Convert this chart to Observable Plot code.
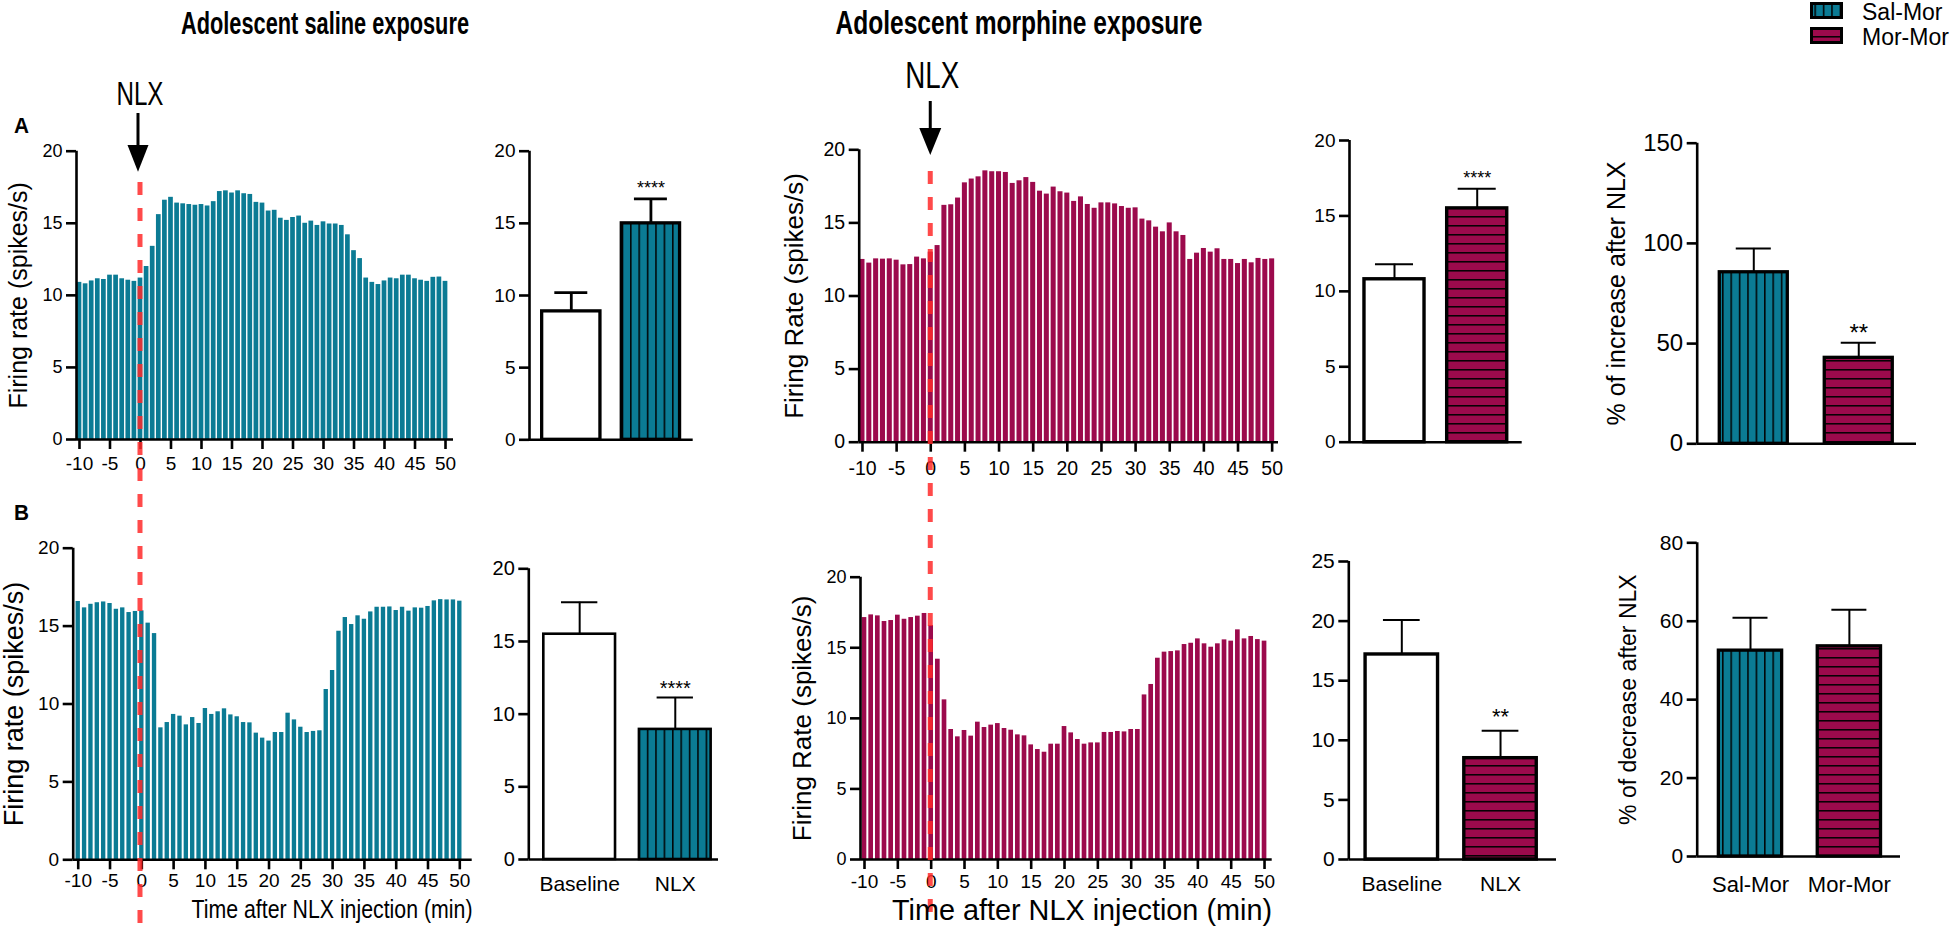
<!DOCTYPE html>
<html>
<head>
<meta charset="utf-8">
<script src="https://cdn.jsdelivr.net/npm/d3@7"></script>
<script src="https://cdn.jsdelivr.net/npm/@observablehq/plot@0.6"></script>
<style>
html, body { margin: 0; padding: 0; background: #fff; }
#fig { position: relative; width: 1960px; height: 932px; overflow: hidden; }
#fig svg { position: absolute; left: 0; top: 0; max-width: none; }
</style>
</head>
<body>
<div id="fig"></div>
<script>
// ---------------- DATA ----------------
const minutes = [-10,-9,-8,-7,-6,-5,-4,-3,-2,-1,0,1,2,3,4,5,6,7,8,9,10,11,12,13,14,15,16,17,18,19,20,21,22,23,24,25,26,27,28,29,30,31,32,33,34,35,36,37,38,39,40,41,42,43,44,45,46,47,48,49,50];
const timeTicks = [-10,-5,0,5,10,15,20,25,30,35,40,45,50];

// Adolescent saline exposure – NLX-induced increase (A) and decrease (B)
const salIncrease = [10.9,10.8,11.0,11.15,11.1,11.4,11.4,11.15,11.05,10.97,11.2,12.0,13.4,15.6,16.6,16.8,16.4,16.35,16.3,16.25,16.3,16.2,16.5,17.2,17.25,17.1,17.25,17.05,17.0,16.45,16.4,15.85,15.9,15.35,15.2,15.4,15.5,15.0,15.15,14.85,15.1,14.95,14.95,14.85,14.2,13.1,12.55,11.2,10.9,10.75,11.0,11.2,11.15,11.4,11.4,11.15,11.05,10.97,11.25,11.27,10.97];
const salDecrease = [16.58,16.17,16.4,16.5,16.55,16.45,16.08,16.17,15.87,15.94,15.98,15.19,14.52,8.47,8.81,9.33,9.22,8.66,9.13,8.75,9.71,9.33,9.5,9.69,9.3,9.18,8.81,8.79,8.13,7.81,7.62,8.17,8.17,9.41,8.98,8.51,8.17,8.24,8.28,10.93,12.15,14.67,15.55,15.1,15.66,15.44,15.91,16.21,16.21,16.23,16.0,16.21,15.96,16.17,16.15,16.26,16.62,16.7,16.68,16.68,16.6];
// Adolescent morphine exposure
const morIncrease = [12.5,12.25,12.54,12.52,12.54,12.45,12.13,12.15,12.66,12.54,13.0,13.45,16.2,16.24,16.7,17.74,18.0,18.15,18.56,18.5,18.5,18.45,17.7,17.88,18.1,17.77,17.17,16.97,17.45,17.13,17.04,16.47,16.78,16.26,16.0,16.37,16.37,16.3,16.12,16.0,16.03,15.26,15.14,14.71,14.39,15.0,14.39,14.14,12.5,12.93,13.25,13.0,13.23,12.5,12.5,12.22,12.5,12.27,12.57,12.5,12.54];
const morDecrease = [17.14,17.33,17.26,16.86,16.93,17.31,17.02,17.14,17.24,17.43,16.58,14.19,11.31,9.21,8.69,9.14,8.74,9.73,9.35,9.52,9.63,9.28,9.16,8.83,8.76,8.12,7.79,7.6,8.17,8.17,9.42,8.97,8.5,8.17,8.26,8.26,9.0,9.0,9.07,9.04,9.21,9.21,11.66,12.4,14.26,14.69,14.73,14.78,15.23,15.32,15.63,15.28,15.04,15.28,15.56,15.47,16.27,15.63,15.8,15.58,15.47];

// Summary bars (mean, SEM)
const conditions = ["Baseline", "NLX"];
const salIncMean = [8.9, 15.0];  const salIncSem = [1.3, 1.7];  const salIncStars = ["", "****"];
const morIncMean = [10.8, 15.5]; const morIncSem = [1.0, 1.3];  const morIncStars = ["", "****"];
const salDecMean = [15.5, 8.95]; const salDecSem = [2.2, 2.2];  const salDecStars = ["", "****"];
const morDecMean = [17.2, 8.5];  const morDecSem = [2.9, 2.3];  const morDecStars = ["", "**"];

const groups = ["Sal-Mor", "Mor-Mor"];
const pctIncMean = [85.6, 42.9]; const pctIncSem = [11.9, 7.5]; const pctIncStars = ["", "**"];
const pctDecMean = [52.5, 53.6]; const pctDecSem = [8.4, 9.3];  const pctDecStars = ["", ""];

// ---------------- STYLE ----------------
const W = 1960, H = 932;
const FONT = "'Liberation Sans', Arial, Helvetica, sans-serif";
const TEAL = "#0b7b94";
const CRIMSON = "#9c0a4c";
const AX = 2.6;

const fig = d3.select("#fig");

// shared pattern defs
const defsSvg = fig.append("svg").attr("width", 0).attr("height", 0);
const defs = defsSvg.append("defs");
const pv = defs.append("pattern").attr("id", "salPat").attr("patternUnits", "userSpaceOnUse").attr("width", 8.4).attr("height", 8.4);
pv.append("rect").attr("width", 8.4).attr("height", 8.4).attr("fill", TEAL);
pv.append("line").attr("x1", 0.8).attr("x2", 0.8).attr("y1", 0).attr("y2", 8.4).attr("stroke", "#000").attr("stroke-width", 1.5);
const ph = defs.append("pattern").attr("id", "morPat").attr("patternUnits", "userSpaceOnUse").attr("width", 9).attr("height", 9);
ph.append("rect").attr("width", 9).attr("height", 9).attr("fill", CRIMSON);
ph.append("line").attr("x1", 0).attr("x2", 9).attr("y1", 0.8).attr("y2", 0.8).attr("stroke", "#000").attr("stroke-width", 1.5);

function margins(f) {
  return {marginLeft: f.left, marginRight: W - f.right, marginTop: f.top, marginBottom: H - f.bottom};
}

function yLabel(text, dx, size) {
  return Plot.text([text], {frameAnchor: "left", textAnchor: "middle", lineAnchor: "middle", rotate: -90, dx, fontSize: size});
}

function histogram(c) {
  const data = minutes.map((m, i) => ({m, v: c.values[i]}));
  return Plot.plot({
    width: W, height: H, ...margins(c.frame),
    style: {background: "transparent", fontFamily: FONT, color: "#000", overflow: "visible"},
    x: {domain: c.xDomain},
    y: {domain: [0, 20]},
    marks: [
      Plot.rect(data, {x1: d => d.m - 0.5, x2: d => d.m + 0.5, y1: 0, y2: "v", fill: c.color, insetLeft: c.inset, insetRight: c.inset}),
      Plot.ruleY([0], {strokeWidth: AX}),
      Plot.ruleX([c.xDomain[0]], {strokeWidth: AX}),
      Plot.axisY({ticks: [0, 5, 10, 15, 20], tickSize: 10, tickPadding: 4, strokeWidth: AX, fontSize: c.yFont, tickFormat: d => String(d), label: null}),
      Plot.axisX({ticks: timeTicks, tickSize: 10, tickPadding: c.xPad, strokeWidth: AX, fontSize: c.xFont, tickFormat: d => String(d), label: null}),
      yLabel(c.ylabel, c.labelDx, c.labelFont)
    ]
  });
}

function barChart(c) {
  const data = c.means.map((m, i) => ({i, m, top: m + c.sems[i], star: c.stars[i]}));
  const marks = [
    Plot.ruleX(data, {x: "i", y1: "m", y2: "top", strokeWidth: c.errW}),
    Plot.ruleY(data, {y: "top", x1: d => d.i - c.cap, x2: d => d.i + c.cap, strokeWidth: c.errW}),
    ...data.map((d, k) => Plot.rect([d], {x1: e => e.i - c.half, x2: e => e.i + c.half, y1: 0, y2: "m", fill: c.fills[k], stroke: "#000", strokeWidth: c.barW})),
    Plot.ruleY([0], {strokeWidth: AX}),
    Plot.ruleX([c.xDomain[0]], {strokeWidth: AX}),
    Plot.axisY({ticks: c.yTicks, tickSize: 10, tickPadding: 4, strokeWidth: AX, fontSize: c.yFont, tickFormat: d => String(d), label: null}),
    Plot.text(data, {x: "i", y: "top", text: "star", dy: c.starDy, fontSize: c.starFont})
  ];
  if (c.xLabels) {
    marks.push(Plot.axisX({ticks: [0, 1], tickFormat: i => c.xLabels[i], tickSize: 0, tickPadding: c.xPad, fontSize: c.xFont, label: null}));
  }
  if (c.ylabel) marks.push(yLabel(c.ylabel, c.labelDx, c.labelFont));
  return Plot.plot({
    width: W, height: H, ...margins(c.frame),
    style: {background: "transparent", fontFamily: FONT, color: "#000", overflow: "visible"},
    x: {domain: c.xDomain, axis: c.xLabels ? undefined : null},
    y: {domain: [0, c.yMax]},
    marks
  });
}

// ---------------- CHARTS ----------------
const hA1 = histogram({values: salIncrease, color: TEAL, inset: 0.7,
  frame: {left: 76, right: 453, top: 150.7, bottom: 439}, xDomain: [-10.49, 51.31],
  yFont: 18, xFont: 19, xPad: 7, ylabel: "Firing rate (spikes/s)", labelDx: -58, labelFont: 25});
const hB1 = histogram({values: salDecrease, color: TEAL, inset: 1.0,
  frame: {left: 72.7, right: 471.7, top: 547.7, bottom: 859.3}, xDomain: [-10.79, 51.95],
  yFont: 19, xFont: 19, xPad: 4, ylabel: "Firing rate (spikes/s)", labelDx: -59, labelFont: 27});
const hA2 = histogram({values: morIncrease, color: CRIMSON, inset: 0.9,
  frame: {left: 858.7, right: 1278, top: 149.3, bottom: 441.7}, xDomain: [-10.48, 50.93],
  yFont: 19.5, xFont: 19.5, xPad: 9, ylabel: "Firing Rate (spikes/s)", labelDx: -65, labelFont: 26});
const hB2 = histogram({values: morDecrease, color: CRIMSON, inset: 1.0,
  frame: {left: 860, right: 1271.7, top: 576.7, bottom: 859}, xDomain: [-10.6, 51.15],
  yFont: 18, xFont: 19, xPad: 5, ylabel: "Firing Rate (spikes/s)", labelDx: -58, labelFont: 26});

const bA1 = barChart({means: salIncMean, sems: salIncSem, stars: salIncStars, fills: ["#fff", "url(#salPat)"],
  frame: {left: 529, right: 692.7, top: 150.7, bottom: 439.3}, xDomain: [-0.525, 1.531], yMax: 20, yTicks: [0, 5, 10, 15, 20],
  half: 0.366, cap: 0.207, errW: 2.8, barW: 3.3, yFont: 19, starFont: 18, starDy: -11});
const bA2 = barChart({means: morIncMean, sems: morIncSem, stars: morIncStars, fills: ["#fff", "url(#morPat)"],
  frame: {left: 1349, right: 1521.7, top: 140, bottom: 441.7}, xDomain: [-0.544, 1.544], yMax: 20, yTicks: [0, 5, 10, 15, 20],
  half: 0.363, cap: 0.23, errW: 2, barW: 3.4, yFont: 19, starFont: 18, starDy: -11});
const bB1 = barChart({means: salDecMean, sems: salDecSem, stars: salDecStars, fills: ["#fff", "url(#salPat)"],
  frame: {left: 528.3, right: 718, top: 568.3, bottom: 859}, xDomain: [-0.532, 1.452], yMax: 20, yTicks: [0, 5, 10, 15, 20],
  half: 0.375, cap: 0.19, errW: 2, barW: 2.6, yFont: 20, starFont: 20, starDy: -9,
  xLabels: conditions, xPad: 17, xFont: 21});
const bB2 = barChart({means: morDecMean, sems: morDecSem, stars: morDecStars, fills: ["#fff", "url(#morPat)"],
  frame: {left: 1348.3, right: 1556, top: 561, bottom: 859}, xDomain: [-0.537, 1.567], yMax: 25, yTicks: [0, 5, 10, 15, 20, 25],
  half: 0.367, cap: 0.186, errW: 2, barW: 3.4, yFont: 21, starFont: 22, starDy: -14,
  xLabels: conditions, xPad: 17, xFont: 21});
const pInc = barChart({means: pctIncMean, sems: pctIncSem, stars: pctIncStars, fills: ["url(#salPat)", "url(#morPat)"],
  frame: {left: 1696.7, right: 1916, top: 142.7, bottom: 443.3}, xDomain: [-0.539, 1.55], yMax: 150, yTicks: [0, 50, 100, 150],
  half: 0.324, cap: 0.167, errW: 2, barW: 3.3, yFont: 24, starFont: 24, starDy: -9,
  ylabel: "% of increase after NLX", labelDx: -80, labelFont: 25});
const pDec = barChart({means: pctDecMean, sems: pctDecSem, stars: pctDecStars, fills: ["url(#salPat)", "url(#morPat)"],
  frame: {left: 1696.7, right: 1900, top: 542.3, bottom: 856}, xDomain: [-0.539, 1.517], yMax: 80, yTicks: [0, 20, 40, 60, 80],
  half: 0.32, cap: 0.177, errW: 2, barW: 3.3, yFont: 21, starFont: 22, starDy: -9,
  xLabels: groups, xPad: 20, xFont: 22,
  ylabel: "% of decrease after NLX", labelDx: -69, labelFont: 23});

for (const c of [hA1, hB1, hA2, hB2, bA1, bA2, bB1, bB2, pInc, pDec]) fig.node().appendChild(c);

// ---------------- ANNOTATIONS ----------------
const ov = fig.append("svg").attr("width", W).attr("height", H).attr("font-family", FONT);
function txt(s, o) {
  const t = ov.append("text").attr("x", o.x).attr("y", o.y).attr("font-size", o.size)
    .attr("font-weight", o.weight || 400).attr("text-anchor", o.anchor || "middle").attr("fill", "#000").text(s);
  if (o.len) t.attr("textLength", o.len).attr("lengthAdjust", "spacingAndGlyphs");
  return t;
}
const x0L = hA1.scale("x").apply(0);
const x0R = hA2.scale("x").apply(0);

// titles
txt("Adolescent saline exposure", {x: 325, y: 34, size: 31, weight: 700, len: 288});
txt("Adolescent morphine exposure", {x: 1019, y: 34, size: 33, weight: 700, len: 367});
// panel letters
txt("A", {x: 14, y: 133, size: 22, weight: 700, anchor: "start", len: 15});
txt("B", {x: 14, y: 520, size: 22, weight: 700, anchor: "start", len: 15});
// NLX markers
txt("NLX", {x: x0L, y: 105, size: 33, len: 47});
txt("NLX", {x: x0R + 2, y: 88, size: 37, len: 54});
function arrow(x, y1, yHead, yTip, hw) {
  ov.append("line").attr("x1", x).attr("x2", x).attr("y1", y1).attr("y2", yHead + 2).attr("stroke", "#000").attr("stroke-width", 3);
  ov.append("path").attr("d", `M${x - hw},${yHead}L${x + hw},${yHead}L${x},${yTip}Z`).attr("fill", "#000");
}
arrow(x0L - 2, 113, 145, 171.7, 10.5);
arrow(x0R, 101, 128, 155, 11);
// dashed injection lines
ov.append("line").attr("x1", x0L).attr("x2", x0L).attr("y1", 182).attr("y2", 932)
  .attr("stroke", "#ff2a2a").attr("stroke-opacity", 0.85).attr("stroke-width", 5).attr("stroke-dasharray", "13,13");
ov.append("line").attr("x1", x0R).attr("x2", x0R).attr("y1", 171).attr("y2", 919)
  .attr("stroke", "#ff2a2a").attr("stroke-opacity", 0.85).attr("stroke-width", 5).attr("stroke-dasharray", "13,13");
// x-axis titles
txt("Time after NLX injection (min)", {x: 332, y: 918, size: 26, len: 281});
txt("Time after NLX injection (min)", {x: 1082, y: 920, size: 29, len: 380});
// legend
ov.append("rect").attr("x", 1811.5).attr("y", 3.5).attr("width", 30).attr("height", 14).attr("fill", "url(#salPat)").attr("stroke", "#000").attr("stroke-width", 3);
ov.append("rect").attr("x", 1811.5).attr("y", 28.5).attr("width", 30).attr("height", 14).attr("fill", "url(#morPat)").attr("stroke", "#000").attr("stroke-width", 3);
txt("Sal-Mor", {x: 1862, y: 19.5, size: 23, anchor: "start"});
txt("Mor-Mor", {x: 1862, y: 44.5, size: 23, anchor: "start"});
</script>
</body>
</html>
